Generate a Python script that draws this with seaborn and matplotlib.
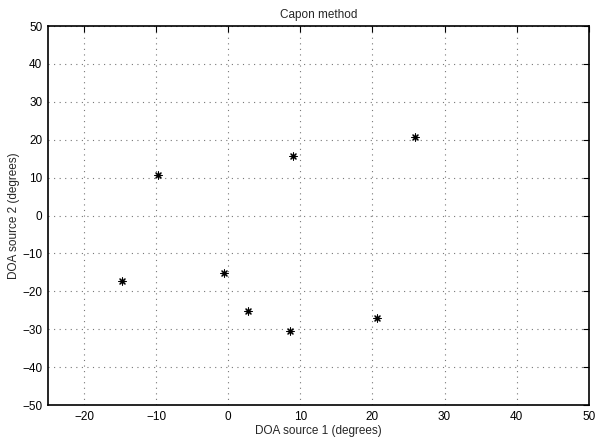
import matplotlib
matplotlib.use("Agg")
import matplotlib.pyplot as plt
import seaborn as sns
import pandas as pd

doa1 = [-14.7, -9.8, -0.6, 2.7, 8.6, 9.0, 20.6, 25.9]
doa2 = [-17.3, 10.6, -15.1, -25.1, -30.6, 15.7, -27.1, 20.8]
xticks = [-20, -10, 0, 10, 20, 30, 40, 50]
yticks = [-50, -40, -30, -20, -10, 0, 10, 20, 30, 40, 50]

df = pd.DataFrame({"x": doa1, "y": doa2})

sns.set_style("white")
plt.rcParams["font.family"] = ["Liberation Sans", "DejaVu Sans"]

fig = plt.figure(figsize=(5.99, 4.40), dpi=100)
ax = fig.add_axes([0.0801, 0.0795, 0.9027, 0.8614])

sns.scatterplot(data=df, x="x", y="y", ax=ax, marker=(8, 2, 0), s=26,
                color="black", linewidth=0.8, edgecolor="black", zorder=3)

ax.set_xlim(-25, 50)
ax.set_ylim(-50, 50)
ax.set_xticks(xticks)
ax.set_yticks(yticks)
ax.set_xticklabels(["\u2212%d" % -t if t < 0 else str(t) for t in xticks])
ax.set_yticklabels(["\u2212%d" % -t if t < 0 else str(t) for t in yticks])
ax.grid(True, linestyle=(0, (1, 4)), color="#777777", linewidth=0.8)
ax.tick_params(direction="in", top=True, right=True, length=4, width=0.8,
               labelsize=8.5, colors="black", pad=4)
for s in ax.spines.values():
    s.set_color("black")
    s.set_linewidth(1.2)

ax.set_xlabel("DOA source 1 (degrees)", fontsize=8.5, labelpad=2)
ax.set_ylabel("DOA source 2 (degrees)", fontsize=8.5, labelpad=2)
ax.set_title("Capon method", fontsize=8.5, pad=6)

fig.savefig("out.png", dpi=100)
